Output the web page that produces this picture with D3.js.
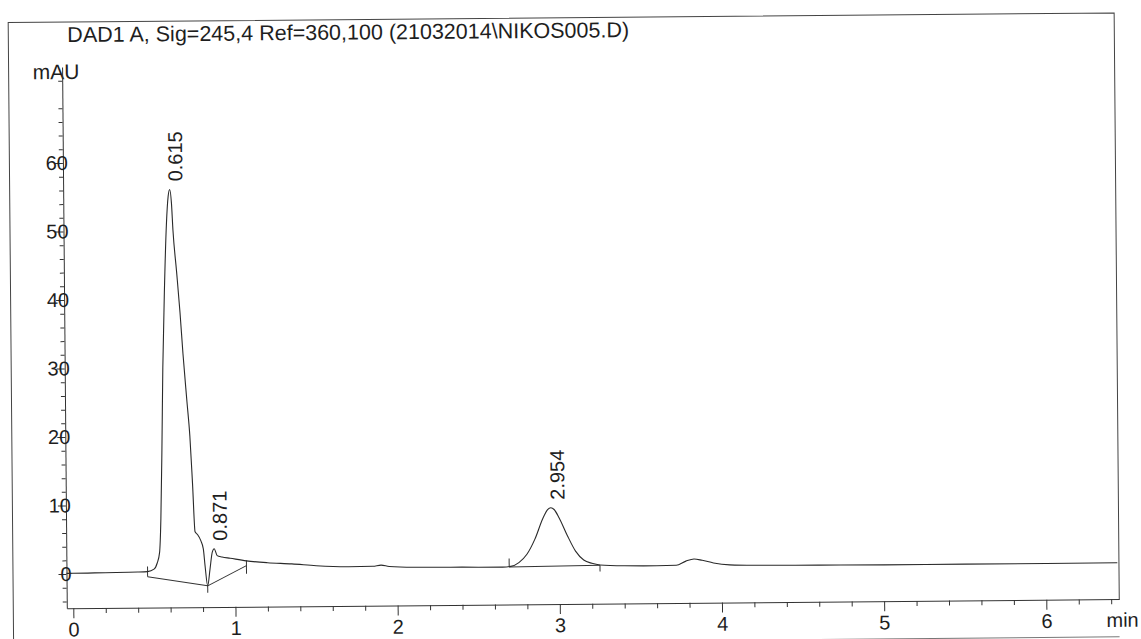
<!DOCTYPE html>
<html>
<head>
<meta charset="utf-8">
<script src="https://cdn.jsdelivr.net/npm/d3@7"></script>
<style>
  body { margin: 0; background: #fff; }
  svg { display: block; }
  text { font-family: "Liberation Sans", Arial, sans-serif; fill: #1e1e1e; }
</style>
</head>
<body>
<svg width="1141" height="639"></svg>
<script>
// chromatogram trace (time in min, signal in mAU)
const timeMin = [-0.04, 0.0, 0.2, 0.4, 0.46, 0.5, 0.52, 0.535, 0.545, 0.555, 0.565, 0.58,
  0.595, 0.607, 0.617, 0.627, 0.635, 0.655, 0.674, 0.69, 0.712, 0.728, 0.742, 0.755,
  0.77, 0.79, 0.805, 0.815, 0.83, 0.845, 0.86, 0.872, 0.89, 0.92, 0.97, 1.07, 1.2,
  1.35, 1.5, 1.7, 1.85, 1.9, 1.95, 2.1, 2.4, 2.65, 2.7, 2.75, 2.8, 2.85, 2.9, 2.93,
  2.95, 2.97, 3.0, 3.05, 3.1, 3.15, 3.2, 3.25, 3.4, 3.6, 3.72, 3.78, 3.83, 3.88, 3.95,
  4.05, 4.2, 4.6, 5.0, 5.5, 6.0, 6.44];
const signal = [0.1, 0.1, 0.15, 0.2, 0.25, 0.6, 1.5, 3, 8, 18, 30, 42,
  51, 55, 56, 54, 50, 44, 38, 32, 25, 20, 13, 6,
  5.6, 4.7, 3.5, 1, -1.9, 0.5, 3, 3.5, 2.5, 2.3, 2.1, 1.7, 1.4,
  1.2, 0.9, 0.7, 0.75, 0.9, 0.7, 0.55, 0.5, 0.45, 0.55, 1.1, 2.3, 4.5, 7.5, 8.8,
  9.05, 8.8, 7.6, 5.0, 2.7, 1.4, 0.9, 0.65, 0.5, 0.45, 0.5, 1.1, 1.4, 1.2, 0.8,
  0.5, 0.4, 0.35, 0.3, 0.3, 0.3, 0.3];

// integration baselines [t0, v0, t1, v1]
const baselines = [[0.46, -0.5, 0.83, -1.9], [0.83, -1.9, 1.07, 1.0], [2.69, 0.45, 3.25, 0.6]];
// baseline tick marks [t, vFrom, vTo]
const baseTicks = [[0.46, -0.5, 1.0], [0.83, -1.9, -2.9], [1.07, 1.8, -0.2], [2.69, 0.45, 1.7], [3.25, 0.6, -0.3]];

const peakRT = [0.615, 0.871, 2.954];
const xTicks = [0, 1, 2, 3, 4, 5, 6];
const yTicks = [0, 10, 20, 30, 40, 50, 60];
const title = "DAD1 A, Sig=245,4 Ref=360,100 (21032014\\NIKOS005.D)";

const svg = d3.select("svg");
// the scan is slightly rotated
const g = svg.append("g").attr("transform", "rotate(-0.5,73,574)");

const x = d3.scaleLinear().domain([-0.04, 6.45]).range([66.5, 1119]);
const y = d3.scaleLinear().domain([-5, 74]).range([608.25, 67]);

// frame
g.append("path")
  .attr("d", `M13,650V22H${x(6.45)}V${y(-5)}`)
  .attr("fill", "none").attr("stroke", "#444").attr("stroke-width", 1);
g.append("line")
  .attr("x1", 13).attr("x2", x(6.45)).attr("y1", 646).attr("y2", 646)
  .attr("stroke", "#777");

g.append("text").attr("x", 72).attr("y", 42)
  .attr("font-size", 21.5).text(title);
g.append("text").attr("x", 37).attr("y", 79)
  .attr("font-size", 21).text("mAU");

// x axis
const xAxis = g.append("g").attr("transform", `translate(0,${y(-5)})`)
  .call(d3.axisBottom(x).tickValues(xTicks).tickSize(10).tickSizeOuter(0).tickPadding(4).tickFormat(d3.format("d")));
g.append("g").attr("transform", `translate(0,${y(-5)})`)
  .call(d3.axisBottom(x).tickValues(d3.range(1, 33).map(i => i * 0.2).filter(v => Math.abs(v % 1) > 0.01 && Math.abs(v % 1) < 0.99))
    .tickSize(5).tickSizeOuter(0).tickFormat(""))
  .select(".domain").remove();
xAxis.selectAll("text").attr("font-size", 20).attr("font-family", null);

g.append("text").attr("x", 1106).attr("y", 636).attr("font-size", 20).text("min");

// y axis
const yAxis = g.append("g").attr("transform", `translate(${x(-0.04)},0)`)
  .call(d3.axisLeft(y).tickValues(yTicks).tickSize(8).tickSizeOuter(0).tickPadding(-13));
g.append("g").attr("transform", `translate(${x(-0.04)},0)`)
  .call(d3.axisLeft(y).tickValues(d3.range(-4, 74, 2).filter(v => v % 10 !== 0))
    .tickSize(4).tickSizeOuter(0).tickFormat(""))
  .select(".domain").remove();
yAxis.selectAll("text").attr("font-size", 20).attr("font-family", null);

g.selectAll(".domain, .tick line").attr("stroke", "#333");

// integration baselines and ticks
g.selectAll(".base").data(baselines).join("line")
  .attr("class", "base")
  .attr("x1", d => x(d[0])).attr("y1", d => y(d[1]))
  .attr("x2", d => x(d[2])).attr("y2", d => y(d[3]))
  .attr("stroke", "#333").attr("stroke-width", 1);
g.selectAll(".btick").data(baseTicks).join("line")
  .attr("class", "btick")
  .attr("x1", d => x(d[0])).attr("x2", d => x(d[0]))
  .attr("y1", d => y(d[1])).attr("y2", d => y(d[2]))
  .attr("stroke", "#333").attr("stroke-width", 1);

// trace
const pts = timeMin.map((t, i) => [t, signal[i]]);
g.append("path").datum(pts)
  .attr("d", d3.line().x(d => x(d[0])).y(d => y(d[1])).curve(d3.curveMonotoneX))
  .attr("fill", "none").attr("stroke", "#2a2a2a").attr("stroke-width", 1.1);

// retention time labels
peakRT.forEach(rt => {
  const near = d3.least(pts.filter(p => Math.abs(p[0] - rt) < 0.03), p => -p[1]);
  const px = x(rt) + 13, py = y(near[1]) - 8;
  g.append("text")
    .attr("transform", `translate(${px},${py}) rotate(-90)`)
    .attr("font-size", 20)
    .text(rt.toFixed(3));
});
</script>
</body>
</html>
